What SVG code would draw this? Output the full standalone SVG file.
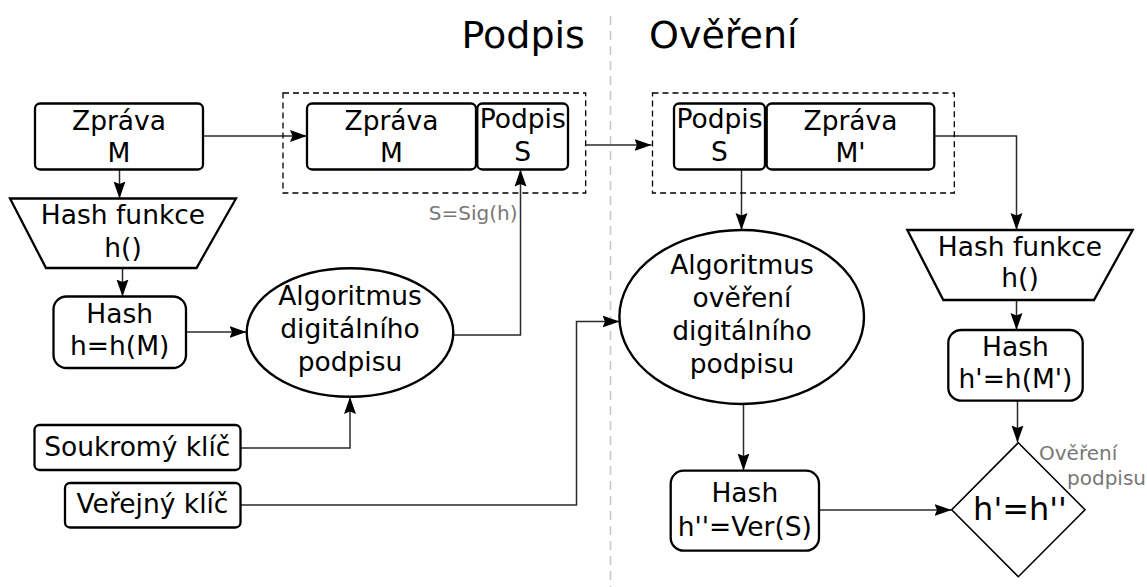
<svg xmlns="http://www.w3.org/2000/svg" width="1147" height="587" viewBox="0 0 1147 587">
<defs>
<marker id="arr" markerUnits="userSpaceOnUse" markerWidth="18" markerHeight="13" refX="17" refY="6.5" orient="auto">
<path d="M0,0.5 L17,6.5 L0,12.5 L2.5,6.5 Z" fill="#000"/>
</marker>
<style>
text{font-family:"DejaVu Sans","Verdana",sans-serif;fill:#000}
.t{font-size:26.5px;text-anchor:middle}
.title{font-size:38px}
.lbl{font-size:20px;fill:#777}
.box{fill:#fff;stroke:#000;stroke-width:2.3}
.shape{fill:#fff;stroke:#000;stroke-width:2.4}
.dash{fill:none;stroke:#000;stroke-width:1.3;stroke-dasharray:6 4}
.ca{fill:none;stroke:#2a2a2a;stroke-width:1.5;marker-end:url(#arr)}
</style>
</defs>
<rect width="1147" height="587" fill="#fff"/>

<g id="titles">
<text class="title" x="461.5" y="48">Podpis</text>
<text class="title" x="649" y="48">Ověření</text>
<line x1="610.5" y1="16" x2="610.5" y2="587" stroke="#c8c8c8" stroke-width="1.6" stroke-dasharray="9 6"/>
</g>

<g id="connectors">
<line class="ca" x1="203" y1="136" x2="307" y2="136"/>
<line class="ca" x1="119.5" y1="169" x2="119.5" y2="198.5"/>
<line class="ca" x1="122.5" y1="268" x2="122.5" y2="296.5"/>
<line class="ca" x1="186" y1="332" x2="246.5" y2="332"/>
<polyline class="ca" points="453,335 520.5,335 520.5,169.5"/>
<polyline class="ca" points="240,448 350,448 350,397"/>
<polyline class="ca" points="240,505 576.5,505 576.5,321.5 619.5,321.5"/>
<line class="ca" x1="586" y1="145" x2="651.5" y2="145"/>
<line class="ca" x1="741.5" y1="169.5" x2="741.5" y2="230"/>
<polyline class="ca" points="934.5,136 1016.5,136 1016.5,230"/>
<line class="ca" x1="1016.5" y1="300" x2="1016.5" y2="330"/>
<line class="ca" x1="743.5" y1="404" x2="743.5" y2="470.5"/>
<line class="ca" x1="1017.5" y1="400.5" x2="1017.5" y2="442.5"/>
<line class="ca" x1="819" y1="510" x2="951.5" y2="510"/>
<text class="lbl" x="517.5" y="220" text-anchor="end">S=Sig(h)</text>
</g>

<g id="zprava-m">
<rect class="box" x="35" y="103.5" width="168" height="66" rx="5"/>
<text class="t" x="119" y="130">Zpráva</text>
<text class="t" x="119" y="162">M</text>
</g>

<g id="hash-funkce-1">
<polygon class="box" points="10,198.5 236,198.5 196.5,268 46,268"/>
<text class="t" x="123" y="223.5">Hash funkce</text>
<text class="t" x="123" y="256.5">h()</text>
</g>

<g id="hash-1">
<rect class="box" x="53.5" y="296.5" width="132.5" height="71.5" rx="13"/>
<text class="t" x="119.7" y="322.5">Hash</text>
<text class="t" x="119.7" y="355">h=h(M)</text>
</g>

<g id="algoritmus-podpisu">
<ellipse class="shape" cx="350" cy="332.5" rx="103.3" ry="64.3"/>
<text class="t" x="350" y="305">Algoritmus</text>
<text class="t" x="350" y="338">digitálního</text>
<text class="t" x="350" y="370.5">podpisu</text>
</g>

<g id="soukromy-klic">
<rect class="box" x="34.5" y="425" width="206" height="45" rx="5"/>
<text class="t" x="137.3" y="456">Soukromý klíč</text>
</g>

<g id="verejny-klic">
<rect class="box" x="65" y="483" width="175.5" height="44.5" rx="5"/>
<text class="t" x="152.5" y="513">Veřejný klíč</text>
</g>

<g id="podepsana-zprava">
<rect class="dash" x="283" y="93" width="302.7" height="100"/>
<rect class="box" x="307" y="103.5" width="169" height="66" rx="5"/>
<text class="t" x="391.5" y="130">Zpráva</text>
<text class="t" x="391.5" y="162">M</text>
<rect class="box" x="477.3" y="103.5" width="90.7" height="66" rx="5"/>
<text class="t" x="522.7" y="128">Podpis</text>
<text class="t" x="522.7" y="161">S</text>
</g>

<g id="prijata-zprava">
<rect class="dash" x="652.5" y="93" width="301.8" height="100"/>
<rect class="box" x="674" y="103.5" width="91" height="66" rx="5"/>
<text class="t" x="719.5" y="128">Podpis</text>
<text class="t" x="719.5" y="161">S</text>
<rect class="box" x="766.7" y="103.5" width="167.6" height="66" rx="5"/>
<text class="t" x="850.5" y="130">Zpráva</text>
<text class="t" x="850.5" y="162">M'</text>
</g>

<g id="algoritmus-overeni">
<ellipse class="shape" cx="741.7" cy="317" rx="122.3" ry="87"/>
<text class="t" x="742" y="273.5">Algoritmus</text>
<text class="t" x="742" y="306.5">ověření</text>
<text class="t" x="742" y="340">digitálního</text>
<text class="t" x="742" y="373">podpisu</text>
</g>

<g id="hash-funkce-2">
<polygon class="box" points="907.3,230 1132.7,230 1094,300 943.3,300"/>
<text class="t" x="1020" y="255.5">Hash funkce</text>
<text class="t" x="1020" y="287">h()</text>
</g>

<g id="hash-2">
<rect class="box" x="948.3" y="330" width="134.4" height="70.7" rx="13"/>
<text class="t" x="1015.5" y="355.5">Hash</text>
<text class="t" x="1015.5" y="388">h'=h(M')</text>
</g>

<g id="hash-3">
<rect class="box" x="670.7" y="470.7" width="148.3" height="80" rx="13"/>
<text class="t" x="744.8" y="501.5">Hash</text>
<text class="t" x="744.8" y="536">h''=Ver(S)</text>
</g>

<g id="overeni-podpisu">
<polygon fill="#fff" stroke="#000" stroke-width="1.6" points="1018.3,442.7 1085,509.7 1018.3,576.7 951.7,509.7"/>
<text x="1020" y="520" font-size="32" text-anchor="middle">h'=h''</text>
<text class="lbl" x="1039" y="460">Ověření</text>
<text class="lbl" x="1067" y="485">podpisu</text>
</g>
</svg>
